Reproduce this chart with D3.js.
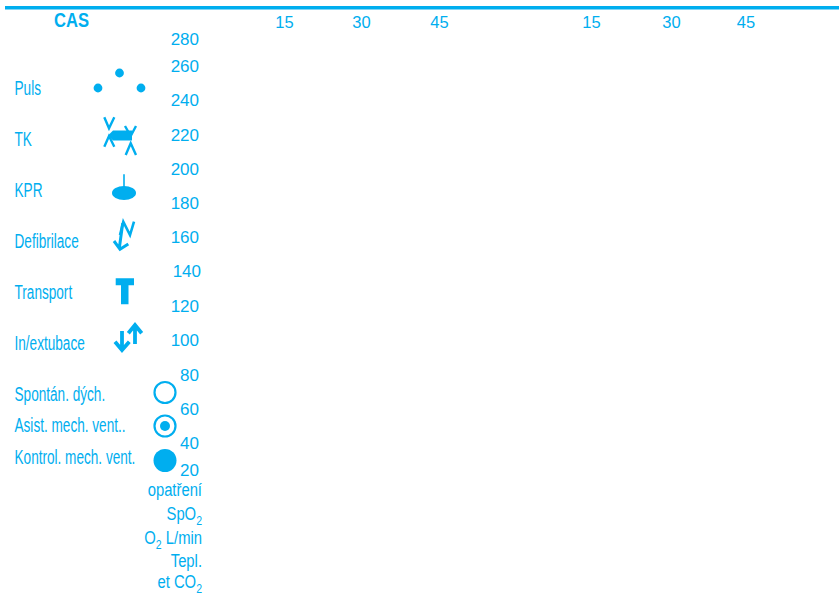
<!DOCTYPE html>
<html>
<head>
<meta charset="utf-8">
<script src="https://cdn.jsdelivr.net/npm/d3@7"></script>
<style>
  html, body { margin: 0; padding: 0; background: #fff; }
  text { font-family: "Liberation Sans", Arial, sans-serif; fill: #00aeef; }
</style>
</head>
<body>
<div id="chart"></div>
<script>
const scaleTicks = [280, 260, 240, 220, 200, 180, 160, 140, 120, 100, 80, 60, 40, 20];
const minuteTicks = [15, 30, 45];
const legendLabels = ["Puls", "TK", "KPR", "Defibrilace", "Transport", "In/extubace",
  "Spontán. dých.", "Asist. mech. vent..", "Kontrol. mech. vent."];
const rowLabels = [
  [["opatření", false]],
  [["SpO", false], ["2", true]],
  [["O", false], ["2", true], [" L/min", false]],
  [["Tepl.", false]],
  [["et CO", false], ["2", true]]
];

const width = 839, height = 599;
const blue = "#00aeef";

const svg = d3.select("#chart").append("svg")
  .attr("width", width)
  .attr("height", height)
  .style("display", "block");

// top rule
svg.append("rect").attr("x", 5).attr("y", 6).attr("width", width - 5).attr("height", 3.5).attr("fill", blue);

svg.append("text")
  .attr("transform", "translate(54,27) scale(0.85,1)")
  .attr("font-weight", "bold")
  .attr("font-size", 19.5)
  .text("CAS");

// minute axes, one per hour block
const hourOne = d3.scaleLinear().domain(minuteTicks).range([284, 361, 439]);
const hourTwo = d3.scaleLinear().domain(minuteTicks).range([591, 671, 745.5]);
[hourOne, hourTwo].forEach(x => {
  const g = svg.append("g")
    .attr("transform", "translate(0,28)")
    .call(d3.axisTop(x).tickValues(minuteTicks).tickSize(0).tickPadding(0));
  g.select(".domain").remove();
  g.selectAll("text").attr("font-size", 16.5).attr("fill", blue).attr("font-family", null);
});

// value axis (printed form, spacing is not quite even)
const y = d3.scaleLinear()
  .domain([280, 260, 240, 100, 80, 40, 20])
  .range([39, 66, 100.4, 339.8, 375, 443, 470]);
const yAxis = svg.append("g")
  .attr("transform", "translate(199,0)")
  .call(d3.axisLeft(y).tickValues(scaleTicks).tickSize(0).tickPadding(0));
yAxis.select(".domain").remove();
yAxis.selectAll("text").attr("font-size", 17).attr("fill", blue).attr("font-family", null);
yAxis.selectAll(".tick").filter(d => d === 140).select("text").attr("dx", 2);

// legend rows
const rowY = d3.scaleLinear().domain([0, 6, 8]).range([88, 394, 457]);
legendLabels.forEach((label, i) => {
  svg.append("text")
    .attr("transform", `translate(14.5,${rowY(i) + 6.5}) scale(0.68,1)`)
    .attr("font-size", 20)
    .text(label);
});

function lines(g, d, w) {
  g.append("path").attr("d", d).attr("fill", "none").attr("stroke", blue).attr("stroke-width", w);
}

const symbols = [
  g => { // Puls
    [[-21.5, 0], [0, -15], [21.5, 0]].forEach(p => {
      g.append("circle").attr("cx", p[0]).attr("cy", p[1]).attr("r", 4.4).attr("fill", blue);
    });
  },
  g => { // TK
    g.append("path").attr("d", "M-12,0.5L-7,-4.5H12V5.5H-7Z").attr("fill", blue);
    lines(g, "M-15.7,-17.7L-11,-6.7L-5.7,-17.7M-15.7,11.7L-11,1L-5.7,11.7M5,-9L10.7,1L16,-9M5.7,20L10.7,8.3L16,20", 2.4);
  },
  g => { // KPR
    g.append("ellipse").attr("cx", 4).attr("cy", 8).attr("rx", 12).attr("ry", 7).attr("fill", blue);
    lines(g, "M4,-10.7V2", 1.6);
  },
  g => { // Defibrilace
    lines(g, "M2.7,-7.7L-0.7,17.3M-6,10L0,18.3L8.3,13", 3);
    lines(g, "M0,4L3.3,-9.3L10,4L14,-9.3", 2.6);
  },
  g => { // Transport
    g.append("path").attr("d", "M-4.3,-14.7H14V-7.7H8.5V11.3H1V-7.7H-4.3Z").attr("fill", blue);
  },
  g => { // In/extubace
    lines(g, "M2,-7V12M-5,3.7L2,12L9.3,3.7", 3.8);
    lines(g, "M15,6V-13M8.3,-4.7L15,-13L21.7,-4.7", 3.8);
  }
];
symbols.forEach((draw, i) => {
  const offset = i === 0 ? 119.5 : 120;
  draw(svg.append("g").attr("transform", `translate(${offset},${rowY(i) + [0, -4, -5, -10, 1, -5][i]})`));
});

// breathing circles
[6, 7, 8].forEach(i => {
  const cy = rowY(i) + [-1.5, 0.5, 3.5][i - 6];
  const c = svg.append("g").attr("transform", `translate(165,${cy})`);
  if (i === 8) {
    c.append("circle").attr("r", 11.5).attr("fill", blue);
  } else {
    c.append("circle").attr("r", 10.5).attr("fill", "none").attr("stroke", blue).attr("stroke-width", 2.2);
  }
  if (i === 7) c.append("circle").attr("r", 5).attr("fill", blue);
});

// bottom row headers
const rowBase = d3.scaleLinear().domain([0, 1, 2, 3, 4]).range([496, 520, 544, 566.5, 588]);
rowLabels.forEach((parts, i) => {
  const t = svg.append("text")
    .attr("transform", `translate(202,${rowBase(i)}) scale(0.78,1)`)
    .attr("text-anchor", "end")
    .attr("font-size", 19);
  parts.forEach((p, j) => {
    const s = t.append("tspan").text(p[0]);
    if (p[1]) s.attr("font-size", 13.5).attr("dy", 5);
    else if (j > 0) s.attr("dy", -5);
  });
});
</script>
</body>
</html>
